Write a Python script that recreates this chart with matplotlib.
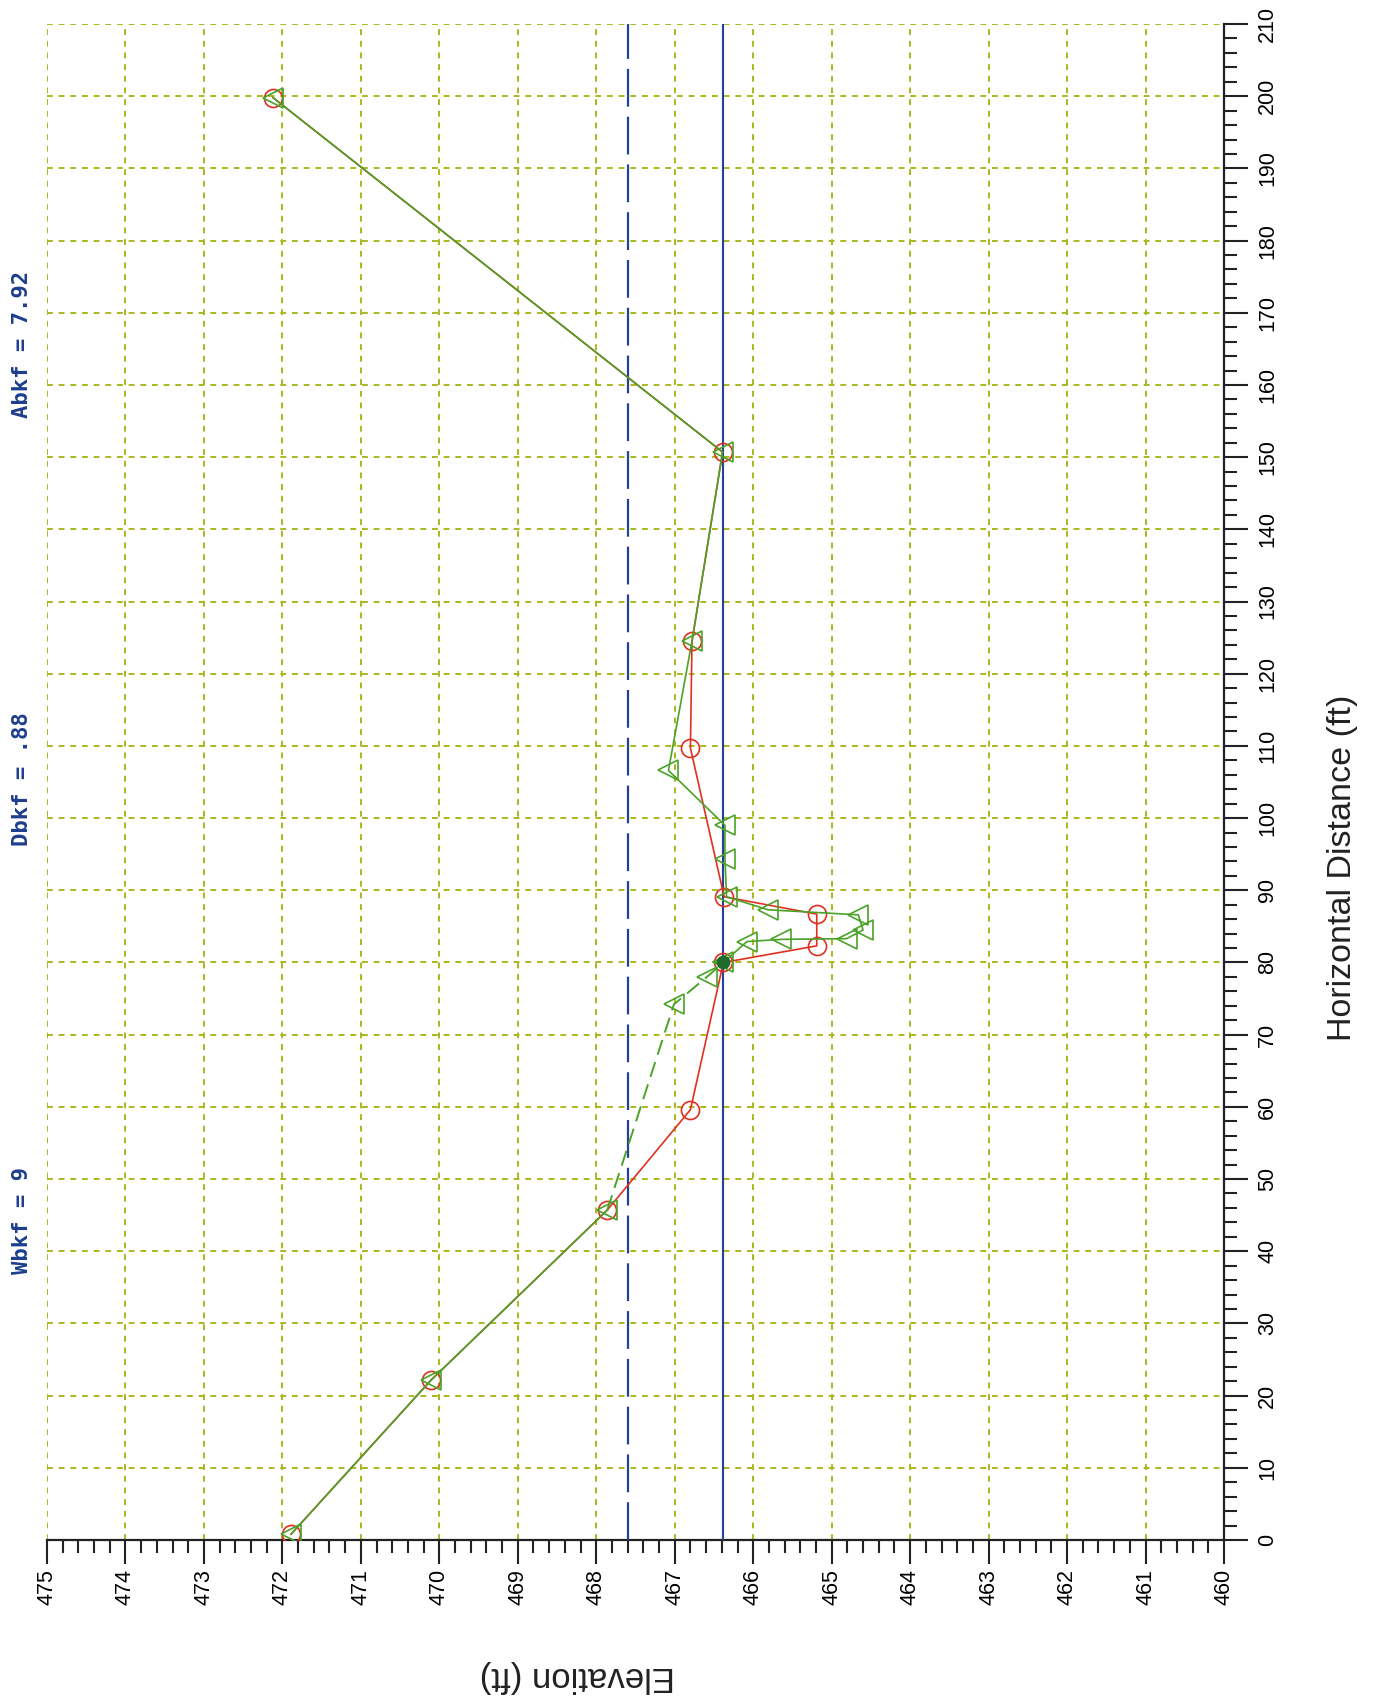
import matplotlib
matplotlib.use("Agg")
import matplotlib.pyplot as plt
from matplotlib.ticker import MultipleLocator

# Cross-section survey: horizontal distance (ft) vs elevation (ft)
dist_range = (0, 210)
elev_range = (460, 475)

# Previous survey (red circles)
red_dist = [0.8, 22.1, 45.7, 59.6, 80.0, 82.3, 86.7, 89.1, 109.7, 124.5, 150.7, 199.8]
red_elev = [471.89, 470.11, 467.86, 466.80, 466.38, 465.19, 465.19, 466.37, 466.80, 466.78, 466.39, 472.12]

# Current survey (green triangles)
green_dist = [0.8, 22.1, 45.7, 74.2, 78.0, 80.0, 82.9, 83.2, 83.3, 84.5, 86.6, 87.3, 89.1,
              94.4, 99.0, 106.6, 124.5, 150.7, 199.8]
green_elev = [471.89, 470.11, 467.86, 467.01, 466.59, 466.38, 466.08, 465.64, 464.81, 464.60,
              464.66, 465.81, 466.34, 466.36, 466.36, 467.08, 466.78, 466.39, 472.12]
green_dashed_span = (2, 5)   # segment indices drawn dashed

# Water surface point and reference elevations
ws_dist = [80.0]
ws_elev = [466.38]
bankfull_elev = 467.59
water_elev = 466.39

summary_labels = ["Wbkf = 9", "Dbkf = .88", "Abkf = 7.92"]

W, H = 1373, 1701
fig = plt.figure(figsize=(W / 100, H / 100), dpi=100)
fig.patch.set_facecolor("white")

# The chart is laid out turned a quarter turn: elevation runs along the
# bottom (high on the left), distance runs up the right-hand side.
ax = fig.add_axes([47 / W, 1 - 1540 / H, (1224 - 47) / W, (1540 - 24) / H])
ax.set_xlim(elev_range[1], elev_range[0])
ax.set_ylim(*dist_range)

grid_col = "#aab81e"
ax.xaxis.set_major_locator(MultipleLocator(1))
ax.xaxis.set_minor_locator(MultipleLocator(0.2))
ax.yaxis.set_major_locator(MultipleLocator(10))
ax.yaxis.set_minor_locator(MultipleLocator(2))
ax.grid(True, which="major", color=grid_col, linestyle=(0, (3, 3)), linewidth=1.4)
ax.set_axisbelow(True)

for side in ("left", "top"):
    ax.spines[side].set_visible(False)
for side in ("right", "bottom"):
    ax.spines[side].set_linewidth(1.6)
    ax.spines[side].set_color("#222222")

ax.yaxis.tick_right()
ax.tick_params(axis="both", which="major", direction="out", length=17, width=1.5,
               color="#222222", labelsize=15.5)
ax.tick_params(axis="both", which="minor", direction="out", length=9.5, width=1.5,
               color="#222222")
ax.tick_params(axis="x", pad=4, labelrotation=90)
ax.tick_params(axis="y", pad=7, labelrotation=90, left=False, right=True, which="both")
for lab in ax.get_xticklabels():
    lab.set_fontfamily("Liberation Sans")
    lab.set_ha("center")
    lab.set_va("top")
for lab in ax.get_yticklabels():
    lab.set_fontfamily("Liberation Sans")
    lab.set_va("center")
    lab.set_ha("left")

# Bankfull (dashed) and water surface (solid) elevations
blue = "#24409a"
ax.axvline(bankfull_elev, color=blue, linewidth=1.6, linestyle=(0, (17, 4.5)), zorder=3)
ax.axvline(water_elev, color=blue, linewidth=1.5, zorder=3)

red = "#e0301e"
green = "#4aa228"

ax.plot(red_elev, red_dist, color=red, linewidth=1.2, marker="o", markersize=13,
        markerfacecolor="none", markeredgecolor=red, markeredgewidth=1.2, zorder=4)

a, b = green_dashed_span
ax.plot(green_elev[:a + 1], green_dist[:a + 1], color=green, linewidth=1.2, zorder=5)
ax.plot(green_elev[a:b + 1], green_dist[a:b + 1], color=green, linewidth=1.4,
        linestyle=(0, (8, 4)), zorder=5)
ax.plot(green_elev[b:], green_dist[b:], color=green, linewidth=1.2, zorder=5)
ax.plot(green_elev, green_dist, linestyle="none", marker="<", markersize=15,
        markerfacecolor="none", markeredgecolor=green, markeredgewidth=1.2, zorder=5)

ax.plot(ws_elev, ws_dist, linestyle="none", marker="o", markersize=9,
        color="#1f6b2c", zorder=6)

# Axis titles
fig.text(1343 / W, 1 - 868 / H, "Horizontal Distance (ft)", rotation=90,
         ha="center", va="center", fontsize=24.5, family="Liberation Sans", color="#222222")
fig.text(577 / W, 1 - 1676 / H, "Elevation (ft)", rotation=180,
         ha="center", va="center", fontsize=25, family="Liberation Sans", color="#222222")

# Bankfull summary values
summary_bottom = [1274, 846, 418]
for txt, yb in zip(summary_labels, summary_bottom):
    fig.text(22 / W, 1 - yb / H, txt, rotation=90, ha="center", va="bottom",
             fontsize=16, family="DejaVu Sans Mono", fontweight="bold", color="#1d3d8e")

fig.savefig("out.png", dpi=100, facecolor="white")
